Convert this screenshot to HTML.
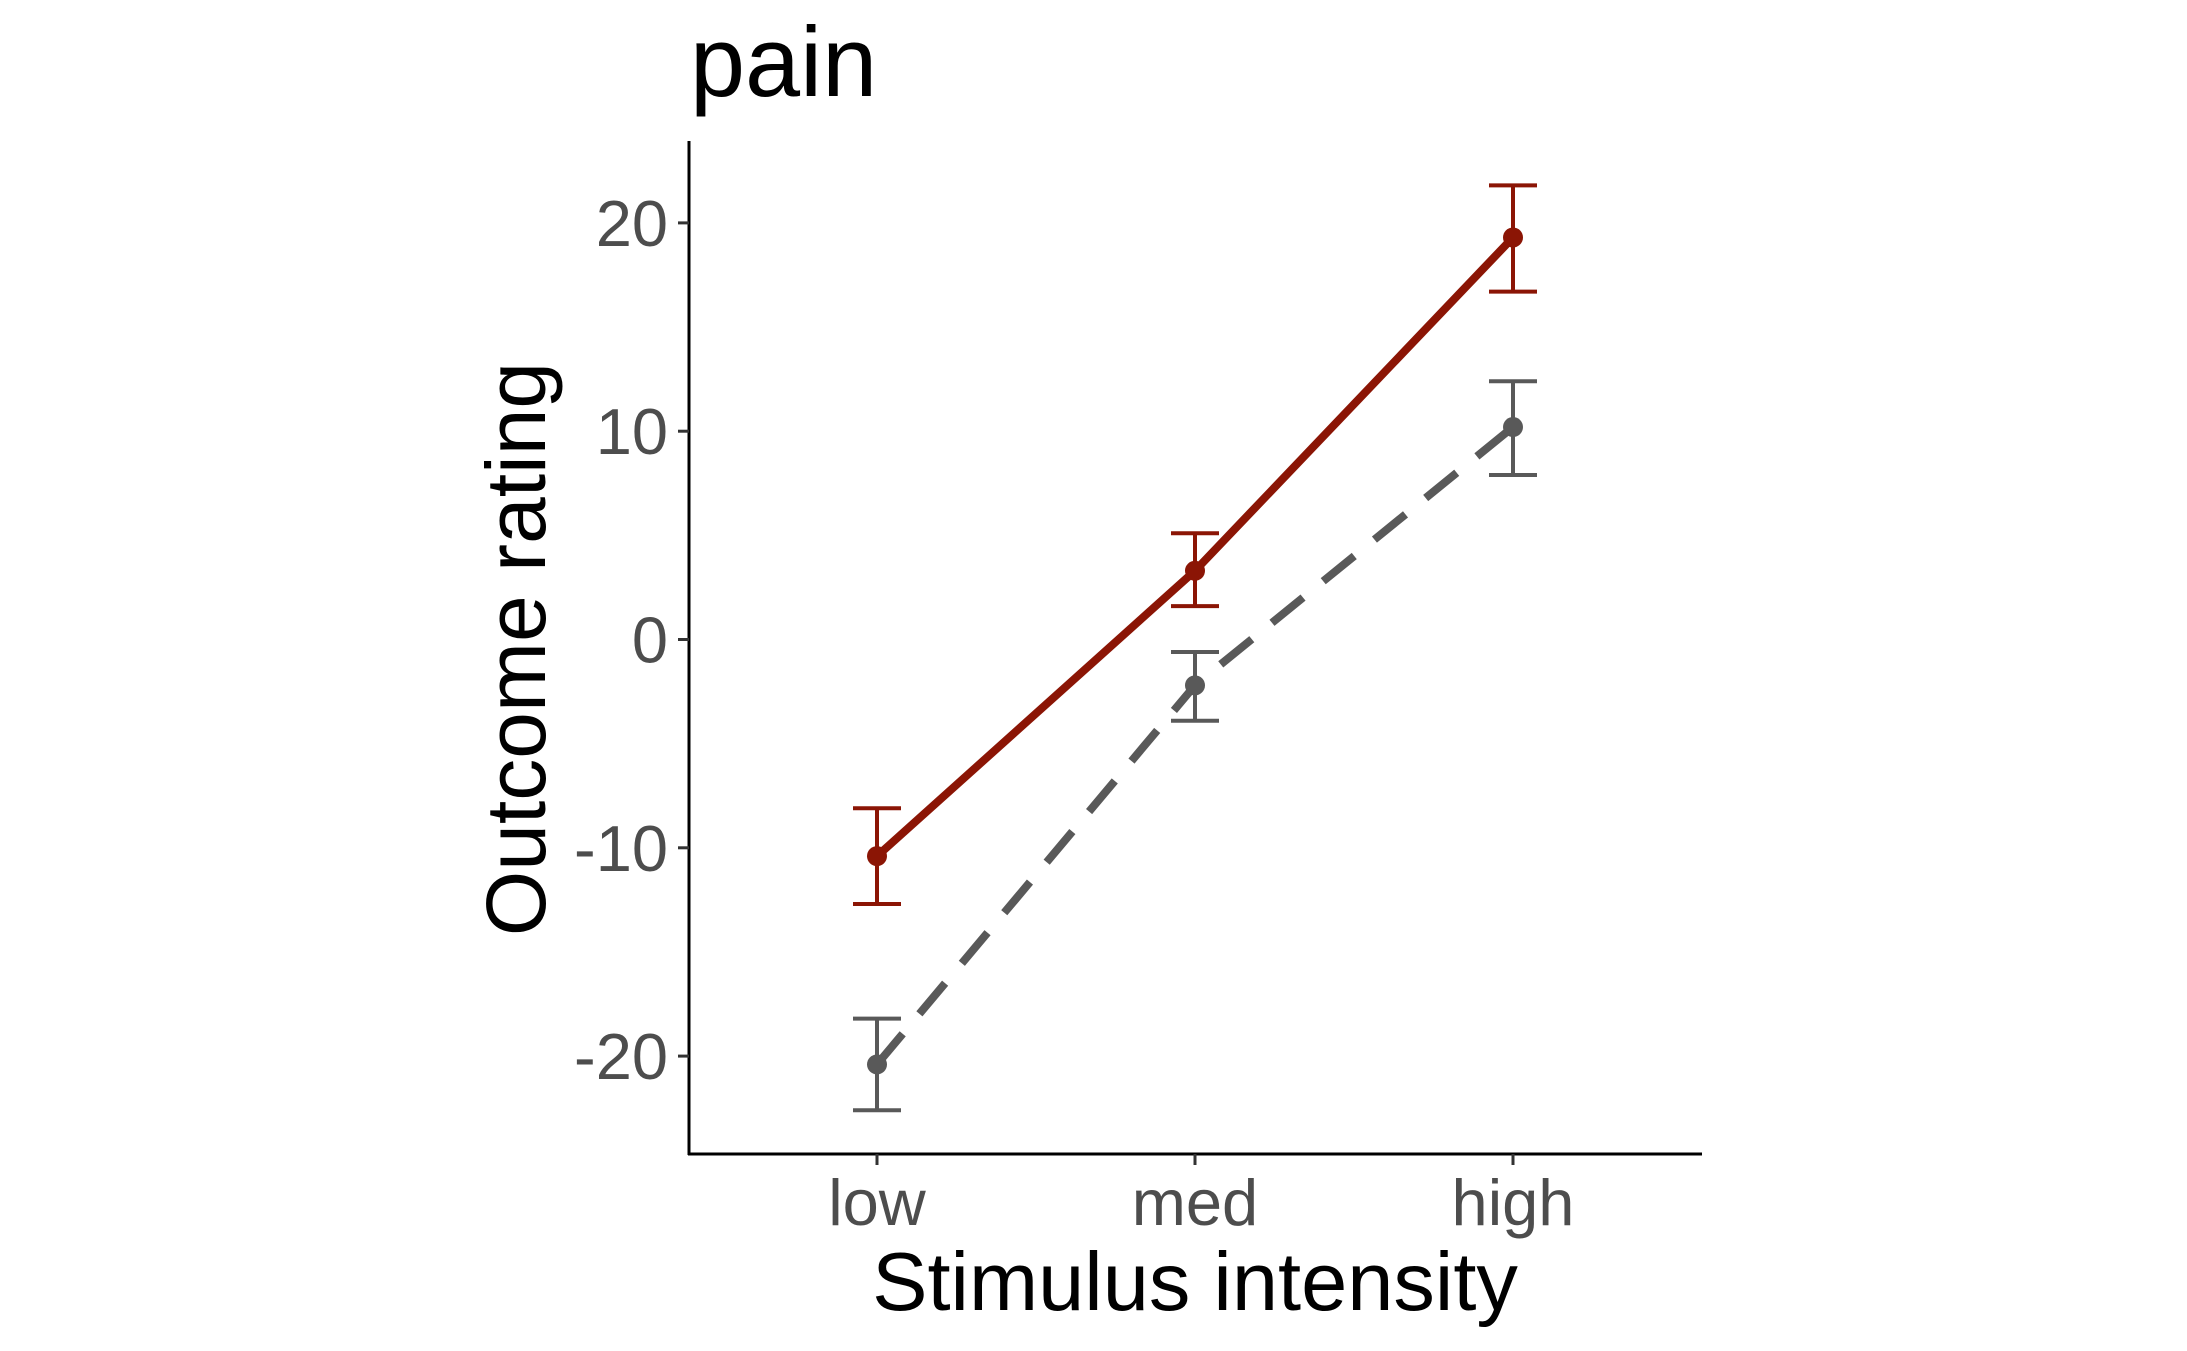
<!DOCTYPE html>
<html><head><meta charset="utf-8"><style>
html,body{margin:0;padding:0;background:#fff;}
svg{display:block;font-family:"Liberation Sans",Arial,sans-serif;}
</style></head><body>
<svg id="chart" width="2187" height="1351" viewBox="0 0 2187 1351">
<rect width="2187" height="1351" fill="#fff"/>
<text x="690" y="96" font-size="99" fill="#000">pain</text>
<line x1="689" y1="141" x2="689" y2="1155" stroke="#000" stroke-width="3"/>
<line x1="688" y1="1154" x2="1702" y2="1154" stroke="#000" stroke-width="3"/>
<g id="yticks"></g><g id="xticks"></g><g id="series"></g>
<text transform="translate(545,649) rotate(-90)" text-anchor="middle" font-size="84" fill="#000">Outcome rating</text>
<text x="1195" y="1310" text-anchor="middle" font-size="83" fill="#000">Stimulus intensity</text>
</svg>
<script>
const categories = ["low","med","high"];
const yTicks = [-20,-10,0,10,20];
const redMean = [-10.4, 3.3, 19.3];
const redLo = [-12.7, 1.6, 16.7];
const redHi = [-8.1, 5.1, 21.8];
const grayMean = [-20.4, -2.2, 10.2];
const grayLo = [-22.6, -3.9, 7.9];
const grayHi = [-18.2, -0.6, 12.4];

const NS = "http://www.w3.org/2000/svg";
function yS(v){ return 639.5 - v * 20.83; }
function xS(i){ return 877 + i * 318; }
function mk(tag, attrs, parent){
  const e = document.createElementNS(NS, tag);
  for (const k in attrs) e.setAttribute(k, attrs[k]);
  parent.appendChild(e);
  return e;
}
const yt = document.getElementById('yticks');
yTicks.forEach(v => {
  const l = mk('line', {x1:678, x2:689, y1:yS(v), y2:yS(v), stroke:'#333', 'stroke-width':3}, yt);
  
  
  const t = mk('text', {x:668, y:yS(v)+23, 'text-anchor':'end', 'font-size':65, fill:'#4d4d4d'}, yt);
  t.textContent = String(v);
  
  
});
const xt = document.getElementById('xticks');
categories.forEach((c, i) => {
  const l = mk('line', {x1:xS(i), x2:xS(i), y1:1154, y2:1165, stroke:'#333', 'stroke-width':3}, xt);
  
  
  const t = mk('text', {x:xS(i), y:1225, 'text-anchor':'middle', 'font-size':65, fill:'#4d4d4d'}, xt);
  t.textContent = c;
  
  
});
const sg = document.getElementById('series');
function drawSeries(mean, lo, hi, color, dash, name){
  const pts = mean.map((v, i) => xS(i) + ',' + yS(v)).join(' ');
  const pl = mk('polyline', {points:pts, fill:'none', stroke:color, 'stroke-width':8, 'stroke-dasharray':dash}, sg);
  
  
  mean.forEach((v, i) => {
    const x = xS(i);
    const eb = mk('path', {d:`M${x-24},${yS(hi[i])}H${x+24}M${x},${yS(hi[i])}V${yS(lo[i])}M${x-24},${yS(lo[i])}H${x+24}`, stroke:color, 'stroke-width':4, fill:'none'}, sg);
    
    
    const c = mk('circle', {cx:x, cy:yS(v), r:10, fill:color}, sg);
    
    
  });
}
drawSeries(grayMean, grayLo, grayHi, '#595959', '40 26', 'gray-series');
drawSeries(redMean, redLo, redHi, '#8b1505', 'none', 'red-series');
</script>
</body></html>
